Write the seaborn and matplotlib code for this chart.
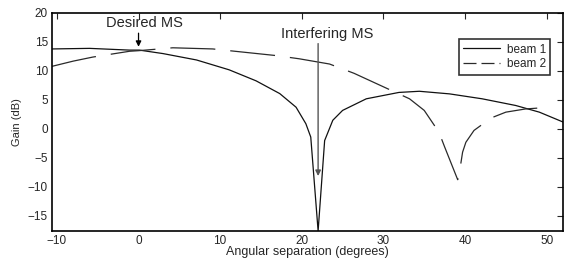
import matplotlib
matplotlib.use("Agg")
import matplotlib.pyplot as plt
import seaborn as sns
import pandas as pd

# Data
beam1_x = [-10.6, -6.0, -1.1, 0.1, 3.0, 7.1, 11.1, 14.4, 17.3, 19.3, 20.5, 21.1, 22.0,
           22.8, 23.8, 25.0, 27.9, 31.9, 34.4, 38.1, 42.1, 46.2, 49.1, 52.0]
beam1_y = [13.8, 13.9, 13.6, 13.6, 13.0, 11.9, 10.2, 8.3, 6.1, 3.75, 0.9, -1.4, -17.6,
           -2.0, 1.5, 3.2, 5.2, 6.3, 6.5, 6.05, 5.2, 4.05, 2.9, 1.2]

beam2_x = [-10.6, -8.0, -5.6, -1.1, 0.0, 4.2, 9.1, 16.9, 19.7, 23.4, 26.4, 31.5, 33.2, 35.0,
           36.8, 37.5, 39.1, 39.4, 39.7, 40.1, 41.1, 43.2, 45.0, 47.4, 50.5]
beam2_y = [10.8, 11.7, 12.4, 13.4, 13.5, 14.0, 13.8, 12.65, 12.1, 11.2, 9.6, 6.3, 5.2, 3.2,
           -0.55, -3.1, -8.75, -6.7, -4.0, -2.3, -0.25, 1.9, 2.9, 3.45, 3.75]

x_ticks = [-10, 0, 10, 20, 30, 40, 50]
y_ticks = [-15, -10, -5, 0, 5, 10, 15, 20]

sns.set_style("white")
plt.rcParams['font.family'] = ['Liberation Sans', 'DejaVu Sans']

fig = plt.figure(figsize=(5.64, 2.59), dpi=100)
ax = fig.add_axes([52/564, 28/259, (563-52)/564, (231-13)/259])

df1 = pd.DataFrame({"x": beam1_x, "y": beam1_y})
df2 = pd.DataFrame({"x": beam2_x, "y": beam2_y})
sns.lineplot(data=df1, x="x", y="y", ax=ax, color="#111111", lw=0.9, label="beam 1", sort=False)
sns.lineplot(data=df2, x="x", y="y", ax=ax, color="#2a2a2a", lw=0.9, label="beam 2", sort=False,
             dashes=False, linestyle=(0, (36, 12)))

ax.set_xlim(-10.6, 52)
ax.set_ylim(-17.6, 20)
ax.set_xticks(x_ticks)
ax.set_yticks(y_ticks)
ax.tick_params(direction="in", length=4, width=0.8, top=True, right=True, labelsize=8.5, pad=3)
for s in ax.spines.values():
    s.set_visible(True)
    s.set_color("black")
    s.set_linewidth(1.2)

ax.set_xlabel("Angular separation (degrees)", fontsize=9, labelpad=-1)
ax.set_ylabel("Gain (dB)", fontsize=8, labelpad=4)

ax.annotate("", xy=(0, 13.7), xytext=(0, 17.0),
            arrowprops=dict(arrowstyle="-|>", color="black", lw=0.9, mutation_scale=8))
ax.text(0.7, 18.2, "Desired MS", ha="center", va="center", fontsize=10.5)

ax.annotate("", xy=(22, -8.6), xytext=(22, 15.2),
            arrowprops=dict(arrowstyle="-|>", color="#555555", lw=1.0, mutation_scale=8))
ax.text(23.1, 16.4, "Interfering MS", ha="center", va="center", fontsize=10.5)

leg = ax.legend(loc="upper right", bbox_to_anchor=(0.9746, 0.879), borderaxespad=0, fontsize=8.5,
                frameon=True, fancybox=False, handlelength=3.1, handletextpad=0.6,
                borderpad=0.35, labelspacing=0.25)
leg.get_frame().set_edgecolor("black")
leg.get_frame().set_linewidth(1.2)
leg.get_lines()[1].set_linestyle((0, (10.4, 4)))

fig.savefig("out.png", dpi=100)
